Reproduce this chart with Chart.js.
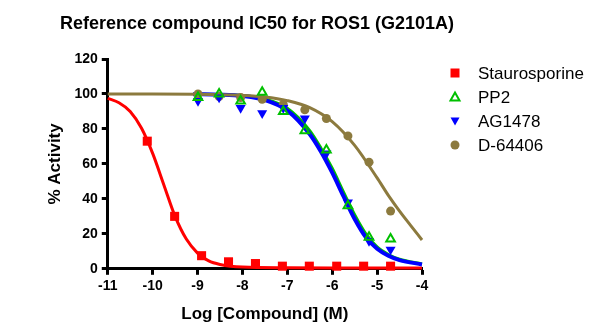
<!DOCTYPE html>
<html>
<head>
<meta charset="utf-8">
<script src="https://cdn.jsdelivr.net/npm/chart.js@4"></script>
<style>
  html, body { margin: 0; padding: 0; background: #fff; }
  #wrap { width: 600px; height: 335px; }
</style>
</head>
<body>
<div id="wrap"><canvas id="c" width="600" height="335"></canvas></div>
<script>
// measured points (log M, % activity)
var staurX = [-10.12, -9.51, -8.91, -8.31, -7.71, -7.11, -6.51, -5.90, -5.30, -4.70];
var staurY = [73, 30, 7.5, 4, 3, 1.5, 1.5, 1.5, 1.5, 1.5];

var otherX = [-8.99, -8.52, -8.04, -7.56, -7.09, -6.61, -6.13, -5.65, -5.18, -4.70];
var pp2Y = [98, 100, 96, 101, 90, 79, 68, 36, 18, 17];
var ag1478Y = [96, 98, 92, 89, 92, 86, 66, 38, 16, 11];
var d64406Y = [100, 98.5, 98, 97, 94, 91, 86, 76, 61, 33];

// fitted curves
var staurCurveX = [-11, -10.75, -10.5, -10.25, -10, -9.75, -9.5, -9.25, -9, -8.75, -8.5, -8, -7, -6, -5, -4];
var staurCurveY = [97.5, 95, 90, 80.5, 66, 48, 30, 17, 9, 4.5, 2.5, 1, 0.6, 0.5, 0.5, 0.5];

var kinCurveX = [-9.1, -8.5, -8, -7.5, -7, -6.5, -6.25, -6, -5.75, -5.5, -5.25, -5, -4.75, -4.5, -4];
var pp2CurveY = [99.9, 99.7, 99.1, 97.2, 91.8, 79, 69, 57.5, 44, 31, 20, 12.5, 8.2, 5.5, 2.8];
var ag1478CurveY = [99.9, 99.6, 98.8, 96.5, 90.5, 77, 67, 55, 41.5, 28.5, 18, 11.5, 7.5, 5, 2.5];

var dCurveX = [-11, -10, -9, -8, -7.5, -7, -6.5, -6, -5.5, -5, -4.75, -4.5, -4.25, -4];
var dCurveY = [100, 100, 99.9, 99.2, 98.3, 96.2, 92.2, 84.2, 70.6, 52, 42, 33, 24.7, 16.5];

var xTicks = [-11, -10, -9, -8, -7, -6, -5, -4];
var yTicks = [0, 20, 40, 60, 80, 100, 120];

var names = ['Staurosporine', 'PP2', 'AG1478', 'D-64406'];
var colors = ['#ff0000', '#00c000', '#0000ff', '#8c7a3e'];
var titleText = 'Reference compound IC50 for ROS1 (G2101A)';

var FONT = "'Liberation Sans', Arial, sans-serif";

function pts(xs, ys) {
    return xs.map(function(x, i) { return {x: x, y: ys[i]}; });
}

function curve(xs, ys, color, width, order) {
    return {
        data: pts(xs, ys),
        showLine: true,
        borderColor: color,
        borderWidth: width,
        pointRadius: 0,
        cubicInterpolationMode: 'monotone',
        order: order,
        clip: false
    };
}

// title and legend drawn by hand so they sit where the reference has them
var extras = {
    id: 'extras',
    afterDraw: function(chart) {
        var ctx = chart.ctx;
        ctx.save();
        ctx.fillStyle = '#000';
        ctx.textAlign = 'center';
        ctx.textBaseline = 'middle';
        ctx.font = 'bold 18px ' + FONT;
        ctx.fillText(titleText, 257, 24);

        var rows = [73, 97, 121, 145];
        ctx.textAlign = 'left';
        ctx.font = '17px ' + FONT;
        rows.forEach(function(y, i) {
            var x = 455;
            ctx.fillStyle = colors[i];
            ctx.strokeStyle = colors[i];
            ctx.beginPath();
            if (i == 0) {
                ctx.rect(x - 4.5, y - 4.5, 9, 9);
                ctx.fill();
            } else if (i == 1) {
                ctx.lineWidth = 2;
                ctx.moveTo(x, y - 4.5);
                ctx.lineTo(x + 4.5, y + 3.5);
                ctx.lineTo(x - 4.5, y + 3.5);
                ctx.closePath();
                ctx.stroke();
            } else if (i == 2) {
                ctx.moveTo(x - 4.5, y - 3.5);
                ctx.lineTo(x + 4.5, y - 3.5);
                ctx.lineTo(x, y + 4.5);
                ctx.closePath();
                ctx.fill();
            } else {
                ctx.arc(x, y, 4.5, 0, Math.PI * 2);
                ctx.fill();
            }
            ctx.fillStyle = '#000';
            ctx.fillText(names[i], 478, y + 1);
        });
        ctx.restore();
    }
};

var ctx = document.getElementById('c').getContext('2d');

new Chart(ctx, {
    type: 'scatter',
    data: {
        datasets: [
            {
                label: names[0], data: pts(staurX, staurY),
                pointStyle: 'rect', pointRadius: 6.4, backgroundColor: colors[0], borderWidth: 0,
                order: 1, clip: false
            },
            {
                label: names[1], data: pts(otherX, pp2Y),
                pointStyle: 'triangle', pointRadius: 5, backgroundColor: 'rgba(0,0,0,0)',
                borderColor: colors[1], borderWidth: 2, order: 2, clip: false
            },
            {
                label: names[2], data: pts(otherX, ag1478Y),
                pointStyle: 'triangle', rotation: 180, pointRadius: 5.8, backgroundColor: colors[2],
                borderWidth: 0, order: 3, clip: false
            },
            {
                label: names[3], data: pts(otherX, d64406Y),
                pointStyle: 'circle', pointRadius: 4.5, backgroundColor: colors[3],
                borderWidth: 0, order: 4, clip: false
            },
            curve(dCurveX, dCurveY, colors[3], 3, 5),
            curve(kinCurveX, ag1478CurveY, colors[2], 4, 6),
            curve(kinCurveX, pp2CurveY, colors[1], 3, 7),
            curve(staurCurveX, staurCurveY, colors[0], 3, 8)
        ]
    },
    options: {
        responsive: false,
        animation: false,
        layout: { padding: { left: 36, right: 178, top: 59, bottom: 10 } },
        plugins: {
            legend: { display: false },
            tooltip: { enabled: false },
            title: { display: false }
        },
        scales: {
            x: {
                type: 'linear', min: -11, max: -4,
                afterBuildTicks: function(axis) {
                    axis.ticks = xTicks.map(function(v) { return {value: v}; });
                },
                ticks: {
                    color: '#000', padding: 3, maxRotation: 0, autoSkip: false,
                    font: { family: FONT, size: 14, weight: 'bold' }
                },
                grid: { drawOnChartArea: false, tickLength: 6, tickWidth: 3, tickColor: '#000', color: '#000' },
                border: { color: '#000', width: 3 },
                title: {
                    display: true, text: 'Log [Compound] (M)', color: '#000',
                    font: { family: FONT, size: 17, weight: 'bold' },
                    padding: { top: 7, bottom: 0 }
                }
            },
            y: {
                min: 0, max: 120,
                afterBuildTicks: function(axis) {
                    axis.ticks = yTicks.map(function(v) { return {value: v}; });
                },
                ticks: {
                    color: '#000', padding: 4,
                    font: { family: FONT, size: 14, weight: 'bold' }
                },
                grid: { drawOnChartArea: false, tickLength: 6, tickWidth: 3, tickColor: '#000', color: '#000' },
                border: { color: '#000', width: 3 },
                title: {
                    display: true, text: '% Activity', color: '#000',
                    font: { family: FONT, size: 17, weight: 'bold' },
                    padding: { top: 9, bottom: 5 }
                }
            }
        }
    },
    plugins: [extras]
});
</script>
</body>
</html>
